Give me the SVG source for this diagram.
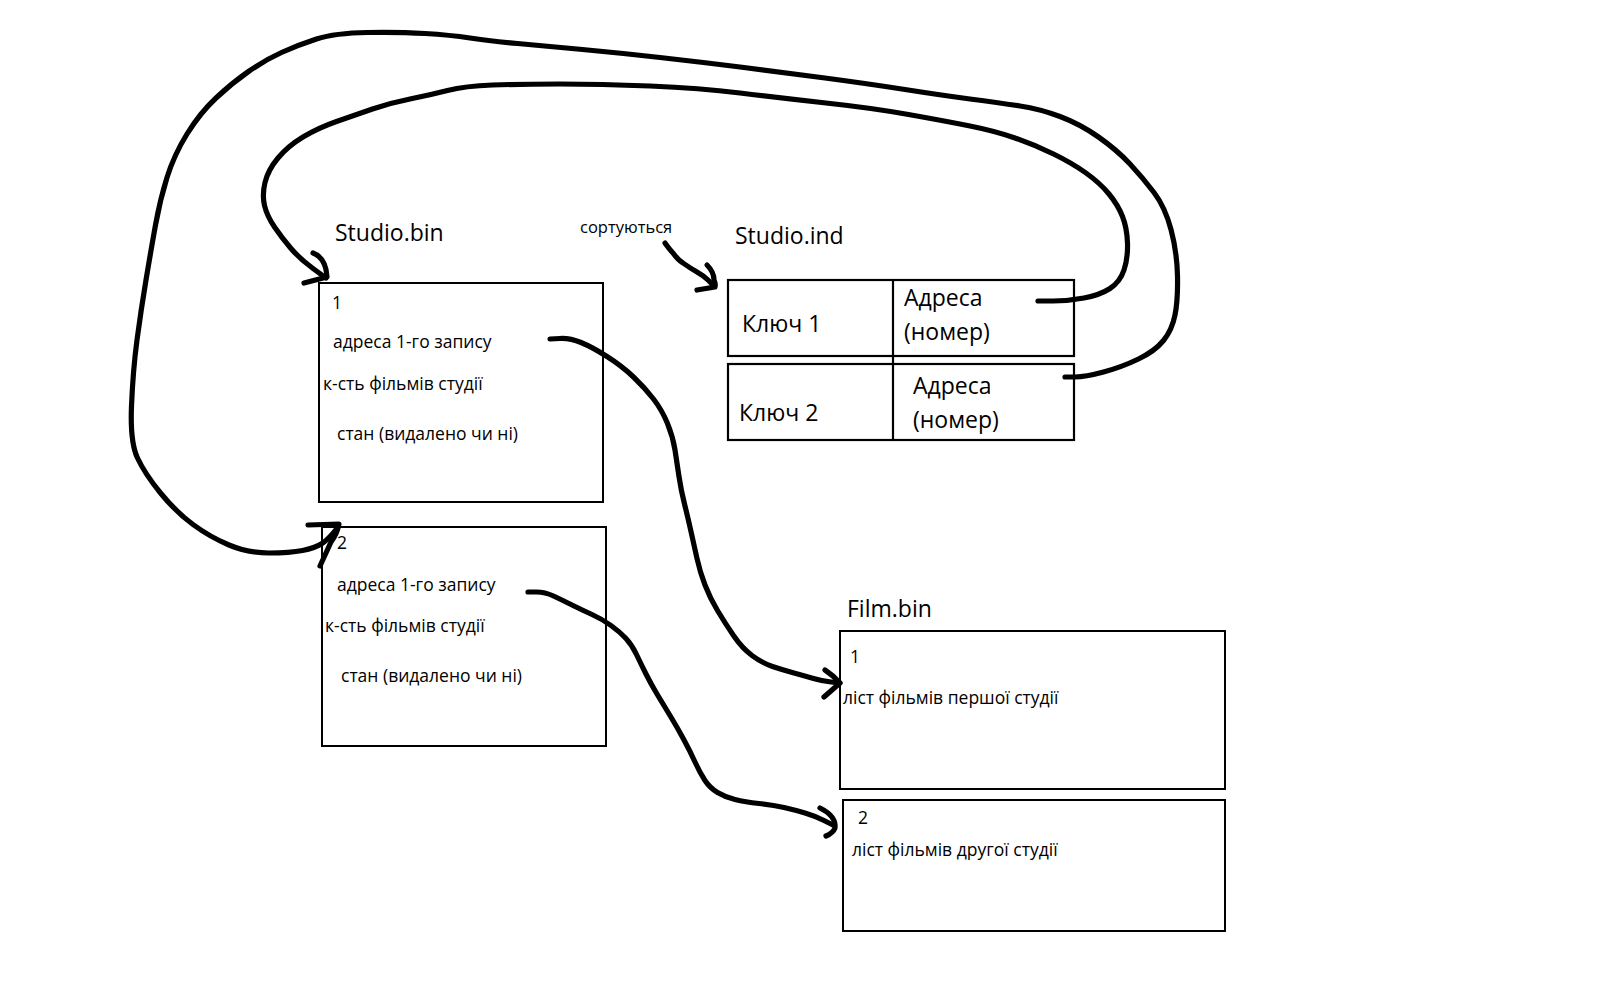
<svg xmlns="http://www.w3.org/2000/svg" width="1607" height="1000" viewBox="0 0 1607 1000">
  <style>
    .box { fill: #ffffff; stroke: #000000; stroke-width: 2; }
    .cell { fill: none; stroke: #000000; stroke-width: 2.2; }
    .title { font-family: "Open Sans", "Noto Sans", sans-serif; font-size: 23px; fill: #000000; }
    .small { font-family: "Open Sans", "Noto Sans", sans-serif; font-size: 17.5px; fill: #000000; }
    .note { font-family: "Open Sans", "Noto Sans", sans-serif; font-size: 16.5px; fill: #000000; }
    .wire { fill: none; stroke: #000000; stroke-width: 5.2; stroke-linecap: round; stroke-linejoin: round; }
  </style>

  <rect width="1607" height="1000" fill="#ffffff"/>

  <!-- Studio.bin records -->
  <g id="studio-bin">
    <text class="title" x="335" y="241">Studio.bin</text>
  </g>
  <g id="studio-rec-1">
    <rect class="box" x="319" y="283" width="284" height="219"/>
    <text class="small" x="332" y="309">1</text>
    <text class="small" x="333" y="348">адреса 1-го запису</text>
    <text class="small" x="323" y="390">к-сть фільмів студії</text>
    <text class="small" x="337" y="440">стан (видалено чи ні)</text>
  </g>
  <g id="studio-rec-2">
    <rect class="box" x="322" y="527" width="284" height="219"/>
    <text class="small" x="337" y="549">2</text>
    <text class="small" x="337" y="591">адреса 1-го запису</text>
    <text class="small" x="325" y="632">к-сть фільмів студії</text>
    <text class="small" x="341" y="682">стан (видалено чи ні)</text>
  </g>

  <!-- sorting note -->
  <g id="sort-note">
    <text class="note" x="580" y="233">сортуються</text>
  </g>

  <!-- Studio.ind index table -->
  <g id="studio-ind">
    <text class="title" x="735" y="244">Studio.ind</text>
  </g>
  <g id="index-row-1">
    <rect class="cell" x="728" y="280" width="346" height="76"/>
    <text class="title" x="742" y="332">Ключ 1</text>
    <text class="title" x="904" y="306">Адреса</text>
    <text class="title" x="904" y="340">(номер)</text>
  </g>
  <g id="index-row-2">
    <rect class="cell" x="728" y="364" width="346" height="76"/>
    <text class="title" x="739" y="421">Ключ 2</text>
    <text class="title" x="913" y="394">Адреса</text>
    <text class="title" x="913" y="428">(номер)</text>
  </g>
  <line class="cell" x1="893" y1="280" x2="893" y2="440"/>

  <!-- Film.bin records -->
  <g id="film-bin">
    <text class="title" x="847" y="617">Film.bin</text>
  </g>
  <g id="film-rec-1">
    <rect class="box" x="840" y="631" width="385" height="158"/>
    <text class="small" x="850" y="663">1</text>
    <text class="small" x="843" y="704">ліст фільмів першої студії</text>
  </g>
  <g id="film-rec-2">
    <rect class="box" x="843" y="800" width="382" height="131"/>
    <text class="small" x="858" y="824">2</text>
    <text class="small" x="852" y="856" fill="#1e1e1e">ліст фільмів другої студії</text>
  </g>

  <!-- hand-drawn connectors -->
  <g id="connectors">
    <!-- index row 1 -> studio record 1 -->
    <path class="wire" d="M1038,301 L1053,301 Q1068,301 1084,298 Q1100,295 1110,288.5 Q1120,282 1124,270 Q1128,258 1127.5,243 Q1127,228 1122.5,216.5 Q1118,205 1109,194 Q1100,183 1086,173 Q1072,163 1053.5,154 Q1035,145 1015,138 Q995,131 970,126 Q945,121 908.5,114.5 Q872,108 826,103 Q780,98 740,93 Q700,88 650,86 Q600,84 560,84 Q520,84 492.5,85 Q465,86 447.5,90.5 Q430,95 410,99 Q390,103 372.5,109 Q355,115 336.5,121.5 Q318,128 303,137 Q288,146 278,158 Q268,170 265,182.5 Q262,195 264.5,205.5 Q267,216 274.5,227 Q282,238 291,248.5 Q300,259 313,268.5 L326,278"/>
    <path class="wire" d="M313,253 Q326,258 327,277 L304,283"/>

    <!-- index row 2 -> studio record 2 -->
    <path class="wire" d="M1065,377 L1075,377 Q1085,377 1103.5,372 Q1122,367 1138.5,359 Q1155,351 1163.5,340.5 Q1172,330 1175,315 Q1178,300 1177.5,276 Q1177,252 1171,229.5 Q1165,207 1154,192.5 Q1143,178 1130,164 Q1117,150 1098.5,137 Q1080,124 1060,116.5 Q1040,109 1020,106 Q1000,103 970,99 Q940,95 905,89.5 Q870,84 825,78 Q780,72 740,67 Q700,62 660,57.5 Q620,53 582.5,49.5 Q545,46 517.5,43.5 Q490,41 470,38 Q450,35 425,33.5 Q400,32 367.5,32.5 Q335,33 316.5,39 Q298,45 281.5,52.5 Q265,60 248.5,71.5 Q232,83 216,98 Q200,113 187,134 Q174,155 167,177.5 Q160,200 155.5,225 Q151,250 146,280 Q141,310 137,340 Q133,370 131.5,406 Q130,442 137.5,458 Q145,474 160.5,493 Q176,512 193,524.5 Q210,537 229,545 Q248,553 269,553 Q290,553 302.5,550.5 Q315,548 322,543.5 Q329,539 338,527"/>
    <path class="wire" d="M308,525 L339,524 Q337,534 331,542 L320,566"/>

    <!-- studio record 1 -> film record 1 -->
    <path class="wire" d="M550,339 L560,338.5 Q570,338 581,342.5 Q592,347 607,356.5 Q622,366 633.5,377 Q645,388 653.5,399 Q662,410 667.5,423.5 Q673,437 675,450 Q677,463 679,476.5 Q681,490 684.5,504 Q688,518 691,531.5 Q694,545 697,558.5 Q700,572 705,585 Q710,598 717.5,610.5 Q725,623 733.5,635.5 Q742,648 752,655.5 Q762,663 772.5,666.5 Q783,670 794,673 Q805,676 813.5,678.5 Q822,681 831,682 L840,683"/>
    <path class="wire" d="M825,670 Q834,676 840,683 L824,697"/>

    <!-- studio record 2 -> film record 2 -->
    <path class="wire" d="M528,592 L536.5,592 Q545,592 553.5,596 Q562,600 572,605 Q582,610 592,614.5 Q602,619 611,625.5 Q620,632 626,638.5 Q632,645 636.5,654.5 Q641,664 646,674 Q651,684 657,694 Q663,704 670,715.5 Q677,727 683.5,739 Q690,751 695,762 Q700,773 705,780.5 Q710,788 717.5,792.5 Q725,797 735,799.5 Q745,802 759,803.5 Q773,805 784,807.5 Q795,810 805,813 Q815,816 824,820.5 L833,825"/>
    <path class="wire" d="M820,808 C830,813 836,820 835,828 Q833,833 826,836"/>

    <!-- sorting arrow -->
    <path class="wire" stroke-width="4.5" d="M665,243 Q670,250 673,253 Q678,260 683,263 Q690,268 697,272 Q704,276 708,280 L714,286"/>
    <path class="wire" stroke-width="4.5" d="M707,265 Q714,272 714,280 Q716,285 715,287 L697,290"/>
  </g>
</svg>
